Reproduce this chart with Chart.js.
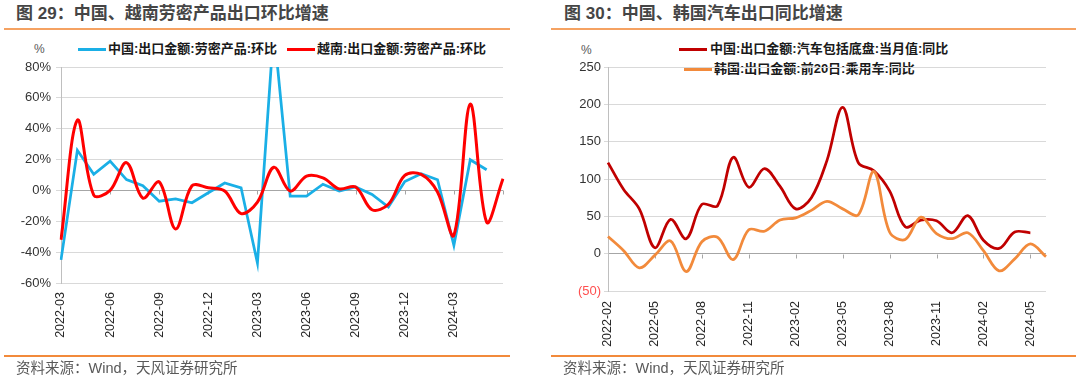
<!DOCTYPE html>
<html><head><meta charset="utf-8">
<script src="https://cdn.jsdelivr.net/npm/chart.js@4.4.1/dist/chart.umd.min.js"></script>
<style>
html,body{margin:0;padding:0;background:#fff;}
body{width:1080px;height:382px;position:relative;overflow:hidden;font-family:"Liberation Sans","Noto Sans CJK SC",sans-serif;}
.abs{position:absolute;}
.title{font-size:17px;font-weight:700;color:#454545;line-height:20px;white-space:nowrap;}
.rule{height:2px;background:#F5A262;}
.footer{font-size:14.5px;color:#595959;line-height:18px;white-space:nowrap;}
.unit{font-size:12px;color:#595959;line-height:14px;}
.leg{font-size:13px;font-weight:700;color:#1a1a1a;line-height:16px;white-space:nowrap;}
.sw{height:3px;}
canvas{position:absolute;top:0;}
</style></head>
<body>
<div class="abs title" style="left:16px;top:4px;">图 29：中国、越南劳密产品出口环比增速</div>
<div class="abs rule" style="left:4px;top:28px;width:506px;"></div>
<div class="abs title" style="left:564px;top:4px;">图 30：中国、韩国汽车出口同比增速</div>
<div class="abs rule" style="left:551px;top:28px;width:525px;"></div>

<div class="abs unit" style="left:34px;top:42px;">%</div>
<div class="abs sw" style="left:78px;top:48px;width:28px;background:#1AAFE6;"></div>
<div class="abs leg" style="left:108px;top:41px;">中国:出口金额:劳密产品:环比</div>
<div class="abs sw" style="left:287px;top:48px;width:28px;background:#FF0000;"></div>
<div class="abs leg" style="left:317px;top:41px;">越南:出口金额:劳密产品:环比</div>

<div class="abs unit" style="left:581px;top:43px;">%</div>
<div class="abs sw" style="left:679px;top:48px;width:28px;background:#C00000;"></div>
<div class="abs leg" style="left:710px;top:41px;">中国:出口金额:汽车包括底盘:当月值:同比</div>
<div class="abs sw" style="left:684px;top:68px;width:28px;background:#F28A3B;"></div>
<div class="abs leg" style="left:714px;top:61px;">韩国:出口金额:前20日:乘用车:同比</div>

<canvas id="c1" width="540" height="382" style="left:0;"></canvas>
<canvas id="c2" width="540" height="382" style="left:540px;"></canvas>

<div class="abs rule" style="left:4px;top:355px;width:506px;background:#F28A3B;"></div>
<div class="abs rule" style="left:551px;top:355px;width:525px;background:#F28A3B;"></div>
<div class="abs footer" style="left:16px;top:359px;">资料来源：Wind，天风证券研究所</div>
<div class="abs footer" style="left:563px;top:359px;">资料来源：Wind，天风证券研究所</div>

<script>
// ---- Left chart data (%) ----
const laborMonths = ['2022-03','2022-04','2022-05','2022-06','2022-07','2022-08','2022-09','2022-10','2022-11','2022-12',
  '2023-01','2023-02','2023-03','2023-04','2023-05','2023-06','2023-07','2023-08','2023-09','2023-10','2023-11','2023-12',
  '2024-01','2024-02','2024-03','2024-04','2024-05','2024-06'];
const chinaLabor = [-45, 26, 10.5, 19, 7, 3, -7, -5.5, -8, -1.5, 4.8, 1.7, -47, 105, -3.7, -3.7, 4, -0.4, 2.2, -2.6, -10.8, 5.8, 10.8, 6.9, -35.6, 19.9, 13.4];
const vietnamLabor = [-32, 45.5, -3, 0, 18, -5, 5.5, -25, 3, 1.7, -0.4, -15, -7.6, 15, -0.4, 9.3, 8.2, 1, 2.2, -12.5, -9, 9.7, 10.4, -1, -29, 56, -20.5, 7.6];
const laborTicks = [-60, -40, -20, 0, 20, 40, 60, 80];

// ---- Right chart data (%) ----
const autoMonths = ['2022-02','2022-03','2022-04','2022-05','2022-06','2022-07','2022-08','2022-09','2022-10','2022-11','2022-12',
  '2023-01','2023-02','2023-03','2023-04','2023-05','2023-06','2023-07','2023-08','2023-09','2023-10','2023-11','2023-12',
  '2024-01','2024-02','2024-03','2024-04','2024-05','2024-06'];
const chinaAuto = [122, 86, 60, 8, 46, 20, 66, 64, 129, 89, 114, 90, 60, 75, 125, 196, 122, 111, 84, 36, 45, 44, 28, 51, 18, 7, 29, 28];
const koreaCar = [23, 4, -19, -2, 17, -24, 16, 22, -8, 32, 30, 45, 48, 58, 70, 60, 52, 110, 29, 19, 49, 27, 20, 28, 4, -23, -7, 13, -4];
const autoTicks = [-50, 0, 50, 100, 150, 200, 250];

const FONT = "'Liberation Sans','Noto Sans CJK SC',sans-serif";

const zeroTicks = {
  id: 'zeroTicks',
  beforeDatasetsDraw(chart, args, opts) {
    const xs = chart.scales.x, ys = chart.scales.y, ctx = chart.ctx;
    const y0 = Math.round(ys.getPixelForValue(0)) + 0.5;
    ctx.save();
    ctx.strokeStyle = opts.color; ctx.lineWidth = 1;
    ctx.beginPath();
    for (let i = opts.every; i <= opts.last; i += opts.every) {
      const px = Math.round(xs.getPixelForValue(i)) + 0.5;
      ctx.moveTo(px, y0); ctx.lineTo(px, y0 + opts.len);
    }
    ctx.stroke();
    ctx.restore();
  }
};

function makeChart(id, cfg) {
  return new Chart(document.getElementById(id), {
    type: 'line',
    data: { labels: cfg.labels, datasets: cfg.datasets },
    plugins: [zeroTicks],
    options: {
      responsive: false, animation: false, devicePixelRatio: 1,
      layout: { padding: cfg.padding },
      plugins: { legend: { display: false }, tooltip: { enabled: false },
        zeroTicks: { every: 3, last: cfg.lastTick, color: '#a6a6a6', len: 4 } },
      elements: { point: { radius: 0 } },
      scales: {
        x: {
          type: 'category', offset: false,
          grid: { display: false, drawTicks: false }, border: { display: false },
          ticks: { autoSkip: false, maxRotation: 90, minRotation: 90, padding: cfg.xPad,
            font: { family: FONT, size: 12.5 }, color: '#262626',
            callback(v, i) { return (i % 3 === 0 && i <= cfg.lastLabel) ? this.getLabelForValue(v) : null; } },
          afterFit(s) { s.height = 60; }
        },
        y: {
          min: cfg.ticks[0], max: cfg.ticks[cfg.ticks.length - 1],
          afterBuildTicks(s) { s.ticks = cfg.ticks.map(v => ({ value: v })); },
          grid: { color: c => (c.tick && c.tick.value === 0) ? '#a6a6a6' : '#d9d9d9', drawTicks: true, tickLength: cfg.tickLen,
                  tickColor: '#d9d9d9' },
          border: { color: '#bfbfbf' },
          ticks: { padding: cfg.yPad, font: { family: FONT, size: 13 },
            color: c => (c.tick && c.tick.value < 0 && cfg.redNeg) ? '#FF5050' : '#333333',
            callback: cfg.fmt },
          afterFit(s) { s.width = cfg.yWidth; }
        }
      }
    }
  });
}

makeChart('c1', {
  labels: laborMonths,
  datasets: [
    { data: vietnamLabor, borderColor: '#FF0000', borderWidth: 3, tension: 0.35, order: 0 },
    { data: chinaLabor, borderColor: '#1AAFE6', borderWidth: 2.75, tension: 0, order: 1 }
  ],
  padding: { top: 67, right: 37, left: 0, bottom: 39 },
  ticks: laborTicks, yWidth: 61, tickLen: 5, yPad: 5, xPad: 9,
  lastLabel: 26, lastTick: 27, redNeg: false,
  fmt: v => v + '%'
});

makeChart('c2', {
  labels: autoMonths,
  datasets: [
    { data: koreaCar, borderColor: '#F28A3B', borderWidth: 2.75, tension: 0.35, order: 0 },
    { data: chinaAuto, borderColor: '#C00000', borderWidth: 2.75, tension: 0.35, order: 1 }
  ],
  padding: { top: 67, right: 34, left: 0, bottom: 31 },
  ticks: autoTicks, yWidth: 68, tickLen: 4, yPad: 3, xPad: 10,
  lastLabel: 27, lastTick: 27, redNeg: true,
  fmt: v => v < 0 ? '(' + Math.abs(v) + ')' : String(v)
});
</script>
</body></html>
